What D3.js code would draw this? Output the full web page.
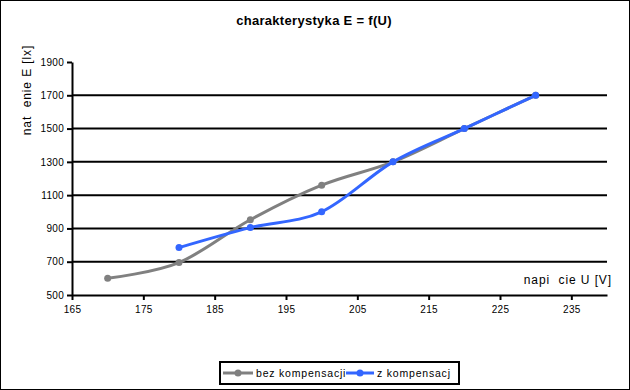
<!DOCTYPE html>
<html>
<head>
<meta charset="utf-8">
<script src="https://cdn.jsdelivr.net/npm/d3@7"></script>
<style>
  html, body { margin: 0; padding: 0; background: #fff; }
  svg { display: block; font-family: 'Liberation Sans', Arial, sans-serif; }
</style>
</head>
<body>
<div id="chart"></div>
<script>
// charakterystyka E = f(U) — two smoothed series, Excel-style chart

const uBez = [170, 180, 190, 200, 210, 220, 230];
const eBez = [600, 695, 952, 1160, 1300, 1500, 1700];
const uZ = [180, 190, 200, 210, 220, 230];
const eZ = [785, 905, 1000, 1300, 1500, 1700];
const xTicks = [165, 175, 185, 195, 205, 215, 225, 235];
const yTicks = [500, 700, 900, 1100, 1300, 1500, 1700, 1900];
const seriesNames = ['bez kompensacji', 'z kompensacj'];

const W = 630, H = 390;
const GRAY = '#808080', BLUE = '#3366ff';

const svg = d3.select('#chart').append('svg')
  .attr('width', W).attr('height', H);

// outer frame
svg.append('rect')
  .attr('x', 0.5).attr('y', 0.5).attr('width', W - 1).attr('height', H - 1)
  .attr('fill', '#fff').attr('stroke', '#000').attr('stroke-width', 1);

const x = d3.scaleLinear().domain([165, 240]).range([72, 607]);
const y = d3.scaleLinear().domain([500, 1900]).range([295, 62]);

// title
svg.append('text')
  .attr('x', 314).attr('y', 25)
  .attr('text-anchor', 'middle')
  .attr('font-size', 13).attr('font-weight', 700)
  .attr('letter-spacing', 0.3)
  .text('charakterystyka E = f(U)');

// gridlines (no line at the top value)
svg.append('g').selectAll('line')
  .data(yTicks.filter(v => v > 500 && v < 1900))
  .join('line')
  .attr('x1', x(165)).attr('x2', x(240))
  .attr('y1', d => y(d)).attr('y2', d => y(d))
  .attr('stroke', '#000').attr('stroke-width', 2);

// axes
const yAxis = svg.append('g')
  .attr('transform', `translate(${x(165)},0)`)
  .call(d3.axisLeft(y).tickValues(yTicks).tickFormat(d3.format('d'))
    .tickSize(5).tickPadding(3).tickSizeOuter(0));
const xAxis = svg.append('g')
  .attr('transform', `translate(0,${y(500)})`)
  .call(d3.axisBottom(x).tickValues(xTicks).tickFormat(d3.format('d'))
    .tickSize(5).tickPadding(6).tickSizeOuter(0));

[yAxis, xAxis].forEach(a => {
  a.select('.domain').attr('stroke', '#000').attr('stroke-width', 2);
  a.selectAll('.tick line').attr('stroke', '#000').attr('stroke-width', 2);
  a.selectAll('.tick text')
    .attr('font-family', "'Liberation Sans', Arial, sans-serif")
    .attr('font-size', 10).attr('letter-spacing', 0.3).attr('fill', '#000');
});

// axis titles
svg.append('text')
  .attr('transform', 'translate(31,90) rotate(-90)')
  .attr('text-anchor', 'middle')
  .attr('font-size', 12).attr('letter-spacing', 0.9)
  .attr('xml:space', 'preserve')
  .text('nat  enie E [lx]');

svg.append('text')
  .attr('x', 612).attr('y', 284)
  .attr('text-anchor', 'end')
  .attr('font-size', 12).attr('letter-spacing', 0.9)
  .attr('xml:space', 'preserve')
  .text('napi  cie U [V]');

// series
const line = d3.line()
  .x(d => x(d[0])).y(d => y(d[1]))
  .curve(d3.curveCardinal.tension(0));

const series = [
  { pts: d3.zip(uBez, eBez), color: GRAY },
  { pts: d3.zip(uZ, eZ), color: BLUE }
];

series.forEach(s => {
  svg.append('path')
    .attr('d', line(s.pts))
    .attr('fill', 'none')
    .attr('stroke', s.color).attr('stroke-width', 3)
    .attr('stroke-linejoin', 'round');
  svg.append('g').selectAll('circle')
    .data(s.pts)
    .join('circle')
    .attr('cx', d => x(d[0])).attr('cy', d => y(d[1]))
    .attr('r', 3.5)
    .attr('fill', s.color);
});

// legend
const lg = svg.append('g');
lg.append('rect')
  .attr('x', 220).attr('y', 362).attr('width', 239).attr('height', 22)
  .attr('fill', '#fff').attr('stroke', '#000').attr('stroke-width', 2);

const legendItems = [
  { name: seriesNames[0], color: GRAY, x0: 223, x1: 253, tx: 256 },
  { name: seriesNames[1], color: BLUE, x0: 346, x1: 374, tx: 377 }
];
legendItems.forEach(it => {
  lg.append('line')
    .attr('x1', it.x0).attr('x2', it.x1).attr('y1', 373).attr('y2', 373)
    .attr('stroke', it.color).attr('stroke-width', 3);
  lg.append('circle')
    .attr('cx', (it.x0 + it.x1) / 2).attr('cy', 373).attr('r', 3.5)
    .attr('fill', it.color);
  lg.append('text')
    .attr('x', it.tx).attr('y', 377)
    .attr('font-size', 10.5).attr('letter-spacing', 0.8)
    .text(it.name);
});
</script>
</body>
</html>
